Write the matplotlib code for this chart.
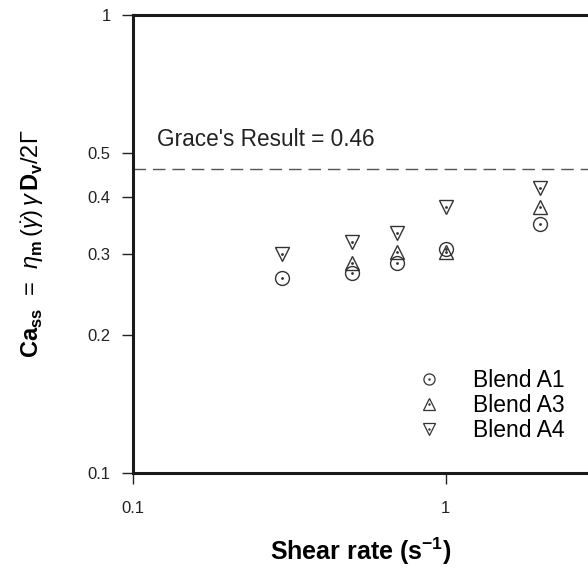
import matplotlib
matplotlib.use("Agg")
import matplotlib.pyplot as plt
from matplotlib.lines import Line2D

plt.rcParams['font.family'] = ['Liberation Sans', 'DejaVu Sans']
plt.rcParams['mathtext.fontset'] = 'custom'
plt.rcParams['mathtext.rm'] = 'Liberation Sans'
plt.rcParams['mathtext.it'] = 'Liberation Sans:italic'
plt.rcParams['mathtext.bf'] = 'Liberation Sans:bold'

shear_rate = [0.3, 0.5, 0.7, 1.0, 2.0]
blend_a1 = [0.267, 0.273, 0.287, 0.308, 0.350]
blend_a3 = [None, 0.287, 0.304, 0.303, 0.381]
blend_a4 = [0.301, 0.319, 0.334, 0.381, 0.419]
grace_result = 0.46

INK = "#333333"

fig = plt.figure(figsize=(5.88, 5.79), dpi=100)
ax = fig.add_axes([0.2262, 0.1831, 0.7738, 0.7910])

series = [
    ("Blend A1", blend_a1, "o"),
    ("Blend A3", blend_a3, "^"),
    ("Blend A4", blend_a4, "v"),
]
handles = []
for name, vals, mk in series:
    xs = [x for x, v in zip(shear_rate, vals) if v is not None]
    ys = [v for v in vals if v is not None]
    ax.plot(xs, ys, linestyle="none", marker=mk, markersize=10,
            markerfacecolor="none", markeredgecolor=INK,
            markeredgewidth=1.0)
    ax.plot(xs, ys, linestyle="none", marker=".", markersize=2, color=INK)
    h_open = Line2D([], [], linestyle="none", marker=mk, markersize=8,
                    markerfacecolor="none", markeredgecolor=INK,
                    markeredgewidth=0.9)
    h_dot = Line2D([], [], linestyle="none", marker=".", markersize=1.5,
                   color=INK)
    handles.append(((h_open, h_dot), name))

ax.axhline(grace_result, color="#555555", linewidth=1.0, dashes=(9, 5))
ax.text(0.1193, 0.536, "Grace's Result = %.2f" % grace_result,
        fontsize=16.3, color="#222222", ha="left", va="center")

ax.set_xscale("log")
ax.set_yscale("log")
ax.set_xlim(0.1, 2.85)
ax.set_ylim(0.1, 1.0)

ax.set_xticks([0.1, 1])
ax.set_xticklabels(["0.1", "1"])
ax.set_yticks([0.1, 0.2, 0.3, 0.4, 0.5, 1])
ax.set_yticklabels(["0.1", "0.2", "0.3", "0.4", "0.5", "1"])
ax.minorticks_off()
ax.tick_params(axis="both", direction="out", length=8, width=1.0,
               labelsize=12, colors="#222222")
ax.tick_params(axis="y", pad=8)
ax.tick_params(axis="x", pad=12)

for side in ("left", "bottom", "top"):
    ax.spines[side].set_linewidth(2.2)
    ax.spines[side].set_color("#1a1a1a")
ax.spines["right"].set_visible(False)

ax.set_xlabel(r"Shear rate (s$^{\mathbf{-1}}$)", fontsize=18,
              fontweight="bold", labelpad=14)
ax.set_ylabel(r"$\mathbf{Ca_{ss}}$  =  $\eta_\mathbf{m}\,(\dot{\gamma})\,\gamma\,\mathbf{D_v}/2\Gamma$",
              fontsize=17, labelpad=30)

ax.legend([h for h, _ in handles], [n for _, n in handles],
          loc="lower right", bbox_to_anchor=(0.9945, 0.022),
          frameon=False, fontsize=16.5,
          handletextpad=1.2, labelspacing=0.1, handlelength=1.5)

fig.savefig("out.png", dpi=100)
